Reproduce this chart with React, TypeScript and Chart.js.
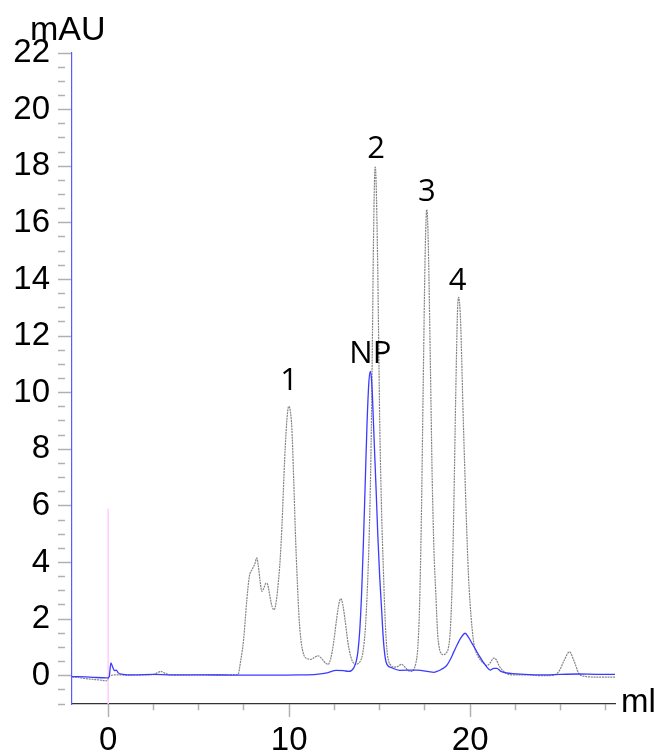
import React, { useEffect, useRef } from 'react';
import { Chart, registerables } from 'chart.js';

Chart.register(...registerables);

// Gray dotted trace (sample): elution volume (ml) and absorbance (mAU)
const grayVolume = [
  -2, -1.5, -1, -0.5, -0.1, 0.1, 0.5, 1, 2, 2.5,
  2.7, 2.9, 3.1, 3.4, 4, 5, 6, 7, 7.18, 7.3,
  7.48, 7.66, 7.8, 7.95, 8.1, 8.21, 8.3, 8.4, 8.49, 8.6,
  8.72, 8.82, 8.95, 9.05, 9.17, 9.3, 9.4, 9.5, 9.6, 9.7,
  9.8, 9.9, 9.98, 10.05, 10.15, 10.25, 10.35, 10.45, 10.55, 10.65,
  10.8, 11.0, 11.2, 11.4, 11.6, 11.8, 12.0, 12.15, 12.3, 12.45,
  12.6, 12.75, 12.85, 12.95, 13.1, 13.25, 13.4, 13.55, 13.7, 13.85,
  14.0, 14.1, 14.2, 14.3, 14.4, 14.5, 14.55, 14.6, 14.65, 14.7,
  14.75, 14.8, 14.85, 14.9, 14.95, 15.0, 15.1, 15.2, 15.3, 15.4,
  15.5, 15.6, 15.8, 16.0, 16.2, 16.4, 16.6, 16.8, 16.9, 17.0,
  17.1, 17.2, 17.3, 17.4, 17.5, 17.55, 17.6, 17.65, 17.7, 17.8,
  17.9, 18.0, 18.1, 18.2, 18.3, 18.4, 18.5, 18.6, 18.7, 18.8,
  18.9, 19.0, 19.1, 19.2, 19.3, 19.36, 19.45, 19.5, 19.6, 19.7,
  19.8, 19.9, 20.0, 20.1, 20.2, 20.3, 20.4, 20.6, 20.8, 20.95,
  21.1, 21.3, 21.45, 21.6, 21.8, 22.0, 22.3, 23, 24, 24.6,
  24.9, 25.2, 25.48, 25.75, 26.0, 26.3, 27, 28,
];
const grayMAU = [
  -0.04, -0.08, -0.12, -0.15, -0.18, 0.0, 0.03, 0.02, 0.03, 0.04,
  0.1, 0.15, 0.1, 0.03, 0.02, 0.03, 0.04, 0.03, 0.05, 0.45,
  1.27, 2.69, 3.51, 3.75, 3.95, 4.16, 3.85, 3.3, 2.98, 3.1,
  3.27, 3.2, 2.75, 2.45, 2.33, 2.7, 3.3, 4.1, 5.3, 6.9,
  8.3, 9.25, 9.52, 9.4, 8.7, 6.9, 4.9, 3.3, 2.0, 1.25,
  0.75, 0.6, 0.58, 0.65, 0.7, 0.6, 0.45, 0.4, 0.62, 1.15,
  1.9, 2.55, 2.72, 2.55, 1.9, 1.15, 0.68, 0.45, 0.4, 0.45,
  0.62, 0.95, 1.6, 2.8, 4.5, 7.2, 9.3, 12.0, 15.0, 17.1,
  17.97, 17.5, 16.0, 14.0, 11.5, 9.0, 5.9, 3.8, 2.0, 0.9,
  0.5, 0.38, 0.3, 0.33, 0.4, 0.3, 0.17, 0.15, 0.25, 0.45,
  0.95, 2.4, 5.5, 10.1, 14.5, 15.9, 16.47, 16.05, 14.8, 11.0,
  7.0, 4.4, 2.9, 1.5, 0.95, 0.78, 0.74, 0.76, 0.82, 1.0,
  1.6, 3.2, 6.15, 9.9, 12.9, 13.37, 12.8, 11.9, 9.45, 7.3,
  5.3, 3.6, 2.5, 1.7, 1.15, 0.88, 0.72, 0.52, 0.4, 0.36,
  0.45, 0.62, 0.55, 0.35, 0.18, 0.08, 0.03, 0.03, 0.0, 0.02,
  0.15, 0.55, 0.84, 0.5, 0.08, -0.02, -0.05, -0.05,
];

// Blue solid trace (NP)
const blueVolume = [
  -2, -1, -0.1, 0.05, 0.15, 0.25, 0.35, 0.45, 0.55, 0.8,
  1.5, 2.5, 3.5, 5, 7, 9, 10.6, 11.5, 12.1, 12.6,
  13.0, 13.3, 13.56, 13.7, 13.8, 13.9, 14.0, 14.1, 14.2, 14.3,
  14.4, 14.48, 14.55, 14.6, 14.7, 14.8, 14.9, 15.0, 15.1, 15.2,
  15.3, 15.4, 15.67, 16.1, 17.05, 18.0, 18.16, 18.4, 18.7, 18.9,
  19.1, 19.3, 19.5, 19.72, 19.9, 20.1, 20.3, 20.5, 20.7, 20.9,
  21.1, 21.3, 21.47, 21.7, 22.0, 23, 24, 25, 26, 27,
  28,
];
const blueMAU = [
  -0.03, -0.05, -0.08, -0.05, 0.45, 0.3, 0.18, 0.2, 0.1, 0.05,
  0.03, 0.05, 0.03, 0.03, 0.02, 0.02, 0.03, 0.05, 0.1, 0.19,
  0.18, 0.15, 0.27, 0.5, 0.87, 1.62, 2.9, 4.7, 6.8, 8.9,
  10.35, 10.75, 10.45, 9.85, 8.2, 6.6, 4.9, 3.5, 2.4, 1.3,
  0.65, 0.4, 0.28, 0.19, 0.2, 0.12, 0.15, 0.22, 0.36, 0.57,
  0.85, 1.12, 1.35, 1.5, 1.36, 1.14, 0.92, 0.7, 0.5, 0.32,
  0.2, 0.26, 0.26, 0.15, 0.1, 0.05, 0.03, 0.05, 0.06, 0.05,
  0.05,
];

// Injection marker
const markerVolume = [0, 0];
const markerMAU = [5.9, -1];

// Axes
const xTickValues = [0, 2.5, 5, 7.5, 10, 12.5, 15, 17.5, 20, 22.5, 25, 27.5];
const xLabelValues = [0, 10, 20];
const yLabelValues = [0, 2, 4, 6, 8, 10, 12, 14, 16, 18, 20, 22];

// Peak annotations
const peakNames = ['1', 'NP', '2', '3', '4'];
const peakNameVolume = [10.0, 14.48, 14.8, 17.61, 19.3];
const peakNameMAU = [10.1, 11.05, 18.29, 16.76, 13.64];

const zip = (xs: number[], ys: number[]) => {
  const n = Math.min(xs.length, ys.length);
  const out: { x: number; y: number }[] = [];
  for (let i = 0; i < n; i++) out.push({ x: xs[i], y: ys[i] });
  return out;
};

const textPlugin = {
  id: 'chromTexts',
  afterDraw(chart: any) {
    const { ctx, chartArea, scales } = chart;
    const x = scales.x;
    const y = scales.y;
    ctx.save();
    ctx.fillStyle = '#000';
    ctx.font = '34px "Liberation Sans", Arial, sans-serif';
    ctx.textBaseline = 'alphabetic';
    ctx.textAlign = 'left';
    ctx.fillText('mAU', chartArea.left - 42, chartArea.top - 13);
    ctx.font = '33px "Liberation Sans", Arial, sans-serif';
    ctx.fillText('ml', chartArea.right + 6, chartArea.bottom + 8);
    ctx.font = '31px "Open Sans", sans-serif';
    ctx.textAlign = 'center';
    peakNames.forEach((name, i) => {
      ctx.fillText(name, x.getPixelForValue(peakNameVolume[i]), y.getPixelForValue(peakNameMAU[i]));
    });
    ctx.restore();
  },
};

export default function App() {
  const ref = useRef<HTMLCanvasElement>(null);

  useEffect(() => {
    if (!ref.current) return;
    const chart = new Chart(ref.current, {
      type: 'line',
      data: {
        datasets: [
          {
            label: 'NP',
            data: zip(blueVolume, blueMAU),
            borderColor: '#3b3bff',
            borderWidth: 1.3,
            pointRadius: 0,
            cubicInterpolationMode: 'monotone',
            order: 0,
          },
          {
            label: 'sample',
            data: zip(grayVolume, grayMAU),
            borderColor: '#858585',
            borderWidth: 1.2,
            borderDash: [2, 0.8],
            pointRadius: 0,
            cubicInterpolationMode: 'monotone',
            order: 1,
          },
          {
            label: 'injection',
            data: zip(markerVolume, markerMAU),
            borderColor: '#ffccff',
            borderWidth: 1.5,
            pointRadius: 0,
            order: 2,
          },
        ],
      },
      options: {
        animation: false,
        responsive: false,
        devicePixelRatio: 1,
        layout: { padding: { left: 0, right: 44, top: 53, bottom: 0 } },
        plugins: {
          legend: { display: false },
          tooltip: { enabled: false },
        },
        scales: {
          x: {
            type: 'linear',
            min: -2,
            max: 28,
            afterBuildTicks: (scale: any) => {
              scale.ticks = xTickValues.map((v) => ({ value: v }));
            },
            afterFit: (scale: any) => {
              scale.height = 47;
            },
            border: { color: '#333', width: 1.3 },
            grid: {
              drawOnChartArea: false,
              drawTicks: true,
              tickLength: 13,
              tickColor: '#b0b0b0',
              tickWidth: 1.5,
              tickBorderDash: (ctx: any) =>
                ctx.tick && xLabelValues.includes(ctx.tick.value) ? [] : [6, 30],
            },
            ticks: {
              autoSkip: false,
              maxRotation: 0,
              padding: 4,
              color: '#000',
              font: { family: '"Liberation Sans", Arial, sans-serif', size: 33 },
              callback: (v: any) => (xLabelValues.includes(Number(v)) ? String(v) : ''),
            },
          },
          y: {
            type: 'linear',
            min: -1,
            max: 22,
            afterFit: (scale: any) => {
              scale.width = 72;
            },
            border: { color: '#5a5aff', width: 1.2 },
            grid: {
              drawOnChartArea: false,
              drawTicks: true,
              tickLength: 14,
              tickColor: '#b0b0b0',
              tickWidth: 1.5,
              tickBorderDash: (ctx: any) =>
                ctx.tick && yLabelValues.includes(ctx.tick.value) ? [] : [7, 30],
            },
            ticks: {
              stepSize: 0.5,
              autoSkip: false,
              padding: 8,
              color: '#000',
              font: { family: '"Liberation Sans", Arial, sans-serif', size: 33 },
              callback: (v: any) => (yLabelValues.includes(Number(v)) ? String(v) : ''),
            },
          },
        },
      },
      plugins: [textPlugin],
    } as any);
    return () => chart.destroy();
  }, []);

  return (
    <div style={{ position: 'absolute', left: 0, top: 0, width: 659, height: 751, background: '#fff' }}>
      <canvas ref={ref} width={659} height={751} style={{ display: 'block', width: 659, height: 751 }} />
    </div>
  );
}
